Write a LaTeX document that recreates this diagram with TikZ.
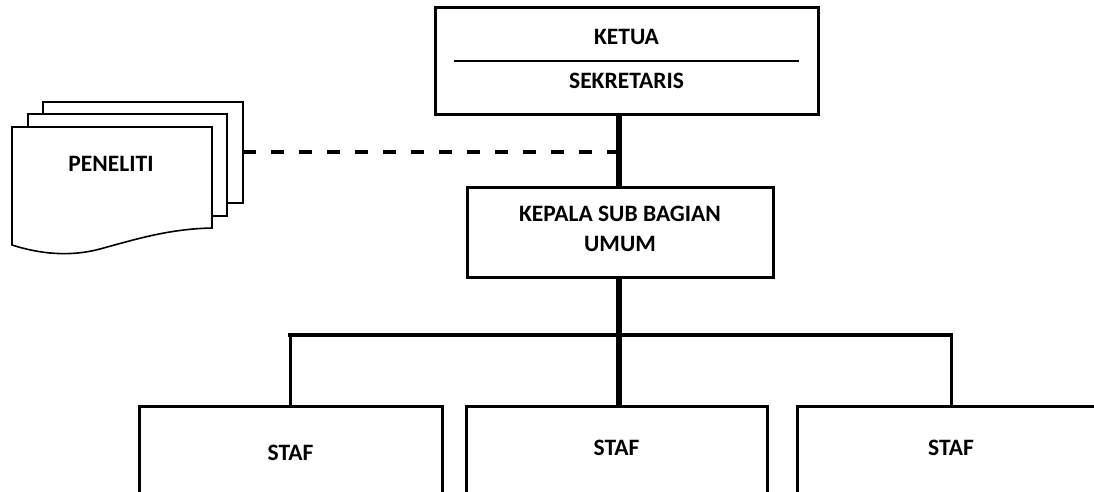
\documentclass[tikz,border=0pt]{standalone}
\usepackage{fontspec}
\setmainfont{Carlito}
\begin{document}
\begin{tikzpicture}[x=1pt,y=-1pt,
  font=\fontsize{23.5}{30}\selectfont\bfseries,
  box/.style={draw, line width=3pt, inner sep=0pt, fill=white},
  page/.style={draw, line width=1.6pt, fill=white},
  lbl/.style={inner sep=0pt, align=center}]
\useasboundingbox (0,0) rectangle (1094,492);
\clip (0,0) rectangle (1094,492);

% Peneliti document stack
\draw[page] (43,102) rectangle (243,203);
\draw[page] (28,114) rectangle (227,216);
\draw[page] (12,127) -- (212,127) -- (212,228)
  .. controls (170,229) and (140,238) .. (100,249)
  .. controls (70,257) and (40,254) .. (12,245) -- cycle;
\node[lbl] (pen) at (111,164) {PENELITI};
\coordinate (penR) at (243,152);

% Ketua / Sekretaris
\node[box, minimum width=383pt, minimum height=107pt] (top) at (626.5,61.5) {};
\node[lbl] (ketua) at (626.5,37) {KETUA};
\node[lbl] (sekr) at (626.5,81) {SEKRETARIS};
\draw[line width=1.5pt] (454,61) -- (799,61);

% Kepala
\node[box, minimum width=306pt, minimum height=90pt] (kepala) at (620,232) {};
\node[lbl] (kepalaT) at (620,229) {KEPALA SUB BAGIAN\\UMUM};

% Staf
\node[box, minimum width=303pt, minimum height=140pt, anchor=north] (s1) at (290.5,405) {};
\node[box, minimum width=301pt, minimum height=140pt, anchor=north] (s2) at (616.5,405) {};
\node[box, minimum width=308pt, minimum height=140pt, anchor=north] (s3) at (951,405) {};
\node[lbl] (s1t) at (290.5,453) {STAF};
\node[lbl] (s2t) at (616.5,448) {STAF};
\node[lbl] (s3t) at (951,448) {STAF};

% connectors
\coordinate (spine) at (619,0);
\coordinate (bus) at (0,335);
\draw[line width=6pt] (top.south -| spine) -- (kepala.north -| spine);
\draw[line width=6pt] (kepala.south -| spine) -- (s2.north -| spine);
\draw[line width=4.5pt, line cap=rect] (s1.north |- bus) -- (s3.north |- bus);
\draw[line width=3pt] (s1.north |- bus) -- (s1.north);
\draw[line width=3pt] (s3.north |- bus) -- (s3.north);
\draw[line width=4pt, dash pattern=on 13pt off 15pt] (penR) -- (spine |- penR);
\end{tikzpicture}
\end{document}
